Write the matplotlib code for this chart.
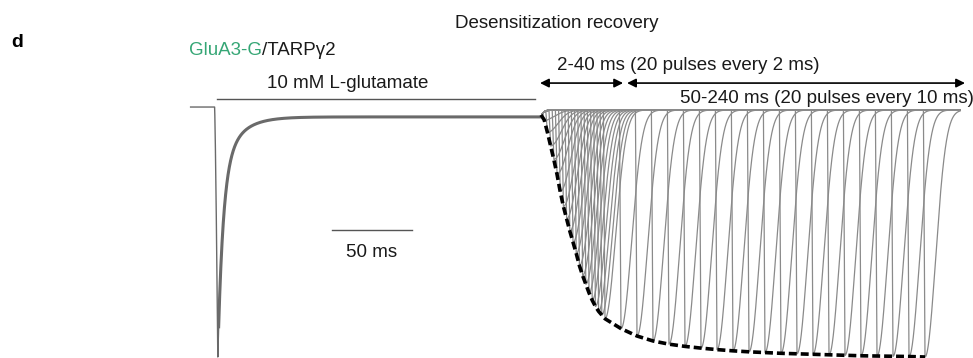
import numpy as np
import matplotlib.pyplot as plt

plt.rcParams['font.family'] = ['Liberation Sans', 'DejaVu Sans']

# recovery intervals (ms after glutamate removal) and normalised peak amplitude of the test pulse
short_int = [2, 4, 6, 8, 10, 12, 14, 16, 18, 20, 22, 24, 26, 28, 30, 32, 34, 36, 38, 40]
short_amp = [0.04, 0.09, 0.145, 0.20, 0.26, 0.33, 0.39, 0.44, 0.49, 0.535,
             0.58, 0.63, 0.67, 0.705, 0.74, 0.77, 0.795, 0.815, 0.83, 0.845]
long_int = [50, 60, 70, 80, 90, 100, 110, 120, 130, 140,
            150, 160, 170, 180, 190, 200, 210, 220, 230, 240]
long_amp = [0.885, 0.915, 0.935, 0.948, 0.957, 0.964, 0.970, 0.975, 0.979, 0.982,
            0.985, 0.987, 0.989, 0.991, 0.993, 0.995, 0.996, 0.997, 0.998, 1.0]

# conditioning response (normalised current, ms relative to glutamate removal)
pre_level = 0.012
steady_level = -0.028
glu_on = -204.0
glu_bar = [-202.5, -3.75]
t_start, t_end = -219.0, 262.0

intervals = short_int + long_int
amps = short_amp + long_amp

fig = plt.figure(figsize=(9.73, 3.58), dpi=100)
ax = fig.add_axes([0, 0, 1, 1])
ax.set_xlim(-338.125, 270.0)
ax.set_ylim(-1.004, 0.4453)
ax.axis('off')

trace_col = '#6a6a6a'
pulse_col = '#8a8a8a'

# long glutamate application: fast peak, desensitisation to steady state
t1 = np.arange(t_start, 0.0, 0.05)
cond = np.full_like(t1, pre_level)
rise = (t1 >= glu_on) & (t1 < glu_on + 2)
cond[rise] = pre_level + (-1 - pre_level) * ((t1[rise] - glu_on) / 2.0) ** 1.3
dec = t1 >= glu_on + 2
dt = t1[dec] - (glu_on + 2)
cond[dec] = steady_level + (-1 - steady_level) * (0.75 * np.exp(-dt / 3.2) + 0.25 * np.exp(-dt / 11.0))
ax.plot(t1, cond, color=trace_col, lw=1.0)
m = t1 > glu_on + 2.5
ax.plot(t1[m], cond[m], color=trace_col, lw=2.2, solid_capstyle='butt')

# one sweep per recovery interval
t2 = np.arange(0.0, t_end, 0.05)
for tp, a in zip(intervals, amps):
    y = steady_level * np.exp(-t2 / 1.5)
    on = (t2 >= tp - 1) & (t2 < tp)
    y[on] += -a * (t2[on] - (tp - 1))
    off = t2 >= tp
    y[off] += -a * np.exp(-((t2[off] - tp) / 9.3) ** 2)
    ax.plot(t2, y, color=pulse_col, lw=0.9)

# recovery envelope through the peaks
env_t = [0.0] + intervals
env_y = [-0.02] + [-a for a in amps]
ax.plot(env_t, env_y, color='black', lw=2.6, dashes=(2.2, 1.1))

# glutamate bar
ax.plot(glu_bar, [0.0445, 0.0445], color='#555555', lw=1.0)

# pulse protocol arrows
arr = dict(arrowstyle='<|-|>', color='black', lw=1.2, mutation_scale=13, shrinkA=0, shrinkB=0)
ax.annotate('', xy=(51.3, 0.109), xytext=(-0.6, 0.109), arrowprops=arr)
ax.annotate('', xy=(265.0, 0.109), xytext=(53.8, 0.109), arrowprops=arr)

fs = 13.5
tc = '#1a1a1a'

# scale bar
sb_x0, sb_len = -130.6, 50.0
ax.plot([sb_x0, sb_x0 + sb_len], [-0.486, -0.486], color='#555555', lw=1.0)
ax.text(sb_x0 + sb_len / 2, -0.595, '50 ms', ha='center', va='baseline', fontsize=fs, color=tc)

ax.text(0.0113, 0.8687, 'd', transform=ax.transAxes, fontsize=14, fontweight='bold', va='baseline')
g = ax.text(0.1942, 0.8464, 'GluA3-G', transform=ax.transAxes, fontsize=fs, color='#35a675', va='baseline')
ax.annotate('/TARP\u03b32', xy=(1, 0), xycoords=g, va='bottom', fontsize=fs, color=tc)
ax.text(0.2744, 0.7542, '10 mM L-glutamate', transform=ax.transAxes, fontsize=fs, color=tc, va='baseline')
ax.text(0.4676, 0.9218, 'Desensitization recovery', transform=ax.transAxes, fontsize=fs, color=tc, va='baseline')
ax.text(0.5725, 0.8045, '2-40 ms (20 pulses every 2 ms)', transform=ax.transAxes, fontsize=fs, color=tc, va='baseline')
ax.text(0.6989, 0.7123, '50-240 ms (20 pulses every 10 ms)', transform=ax.transAxes, fontsize=fs, color=tc, va='baseline')

fig.savefig('out.png', dpi=100)
